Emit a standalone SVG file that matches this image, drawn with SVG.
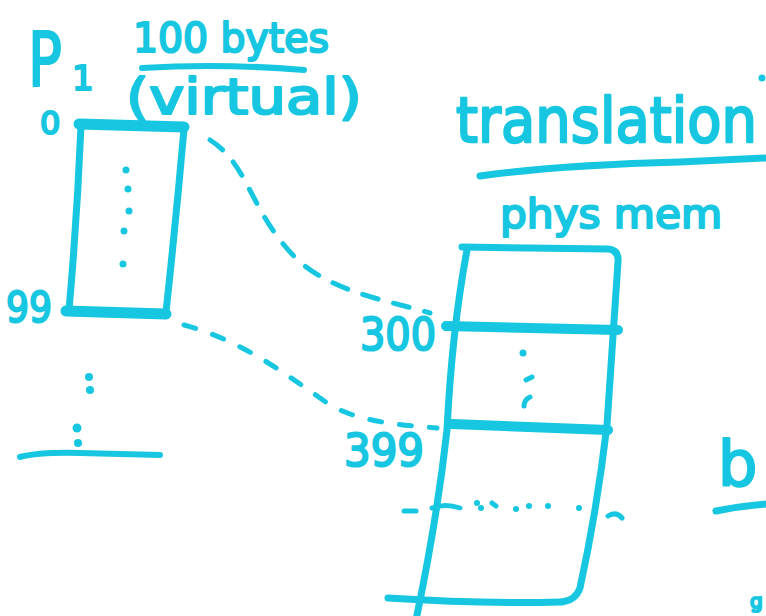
<svg xmlns="http://www.w3.org/2000/svg" width="766" height="616" viewBox="0 0 766 616">
<style>
.ink{fill:none;stroke:#17c6e0;stroke-linecap:round;stroke-linejoin:round}
.t{fill:#17c6e0;stroke:#17c6e0;stroke-width:2.2;stroke-linejoin:round;font-family:"DejaVu Sans","Liberation Sans",sans-serif}
.dot{fill:#17c6e0}
</style>
<rect width="766" height="616" fill="#ffffff"/>

<g id="p1-label">
<text class="t" x="28" y="86" font-size="74" textLength="34" lengthAdjust="spacingAndGlyphs">P</text>
<text class="t" x="72" y="90" font-size="34">1</text>
</g>

<g id="size-label">
<text class="t" x="133" y="52" font-size="40" textLength="196" lengthAdjust="spacingAndGlyphs">100 bytes</text>
<path class="ink" stroke-width="6" d="M142,68 Q220,63 304,70"/>
<text class="t" x="126" y="114" font-size="50" textLength="236" lengthAdjust="spacingAndGlyphs">(virtual)</text>
</g>

<g id="virtual-box">
<text class="t" x="40" y="134" font-size="32">0</text>
<path class="ink" stroke-width="11" d="M79,124 L184,127"/>
<path class="ink" stroke-width="7" d="M81,126 Q77,220 69,310"/>
<path class="ink" stroke-width="7" d="M184,129 Q176,220 166,312"/>
<path class="ink" stroke-width="11" d="M66,311 L166,314"/>
<circle class="dot" cx="126" cy="170" r="3.5"/>
<circle class="dot" cx="128" cy="189" r="3.5"/>
<circle class="dot" cx="129" cy="211" r="3.5"/>
<circle class="dot" cx="124" cy="231" r="3.5"/>
<circle class="dot" cx="123" cy="264" r="3.5"/>
<text class="t" x="6" y="322" font-size="42" textLength="46" lengthAdjust="spacingAndGlyphs">99</text>
<circle class="dot" cx="89" cy="377" r="4"/>
<circle class="dot" cx="90" cy="390" r="4"/>
<circle class="dot" cx="77" cy="428" r="4.5"/>
<circle class="dot" cx="78" cy="443" r="4"/>
<path class="ink" stroke-width="6" d="M20,457 Q40,452 80,453 L160,455"/>
</g>

<g id="connectors">
<path class="ink" stroke-width="5" stroke-dasharray="16 16" d="M210,140 C250,165 250,215 300,262 C335,292 385,300 430,313"/>
<path class="ink" stroke-width="5" stroke-dasharray="12 18" d="M184,325 C240,340 280,370 330,405 C360,422 400,425 437,428"/>
</g>

<g id="title">
<text class="t" transform="translate(456,142) scale(1,1.12)" x="0" y="0" font-size="56">translation</text>
<circle class="dot" cx="762" cy="78" r="3.5"/>
<path class="ink" stroke-width="7" d="M480,176 Q560,165 680,162 L766,158"/>
</g>

<g id="phys-mem-box">
<text class="t" x="500" y="228" font-size="40" textLength="222" lengthAdjust="spacingAndGlyphs">phys mem</text>
<path class="ink" stroke-width="7" d="M462,247 L608,249 Q619,250 618,262 L607,425 Q597,510 580,588 Q576,600 562,602"/>
<path class="ink" stroke-width="7" d="M467,250 Q452,330 447,430 Q437,520 416,620"/>
<path class="ink" stroke-width="7" d="M388,598 Q480,604 560,602"/>
<path class="ink" stroke-width="10" d="M446,326 L618,330"/>
<path class="ink" stroke-width="10" d="M452,424 L608,430"/>
<text class="t" x="360" y="350" font-size="44" textLength="76" lengthAdjust="spacingAndGlyphs">300</text>
<text class="t" x="344" y="466" font-size="44" textLength="80" lengthAdjust="spacingAndGlyphs">399</text>
<circle class="dot" cx="523" cy="353" r="3.5"/>
<path class="ink" stroke-width="5" d="M526,380 L532,377"/>
<path class="ink" stroke-width="5" d="M524,406 Q524,400 530,397"/>
<path class="ink" stroke-width="5" d="M404,511 L416,511"/>
<path class="ink" stroke-width="5" d="M432,508 Q445,503 460,508"/>
<circle class="dot" cx="477" cy="503" r="3"/>
<circle class="dot" cx="481" cy="508" r="3"/>
<path class="ink" stroke-width="5" d="M492,503 L496,506"/>
<circle class="dot" cx="516" cy="509" r="3"/>
<circle class="dot" cx="529" cy="506" r="3"/>
<circle class="dot" cx="548" cy="506" r="3"/>
<circle class="dot" cx="579" cy="508" r="3"/>
<path class="ink" stroke-width="5" d="M608,516 Q616,511 622,518"/>
</g>

<g id="side-label">
<text class="t" x="718" y="485" font-size="62">b</text>
<path class="ink" stroke-width="7" d="M716,511 Q740,506 766,504"/>
<text class="t" x="750" y="608" font-size="20">g</text>
</g>
</svg>
